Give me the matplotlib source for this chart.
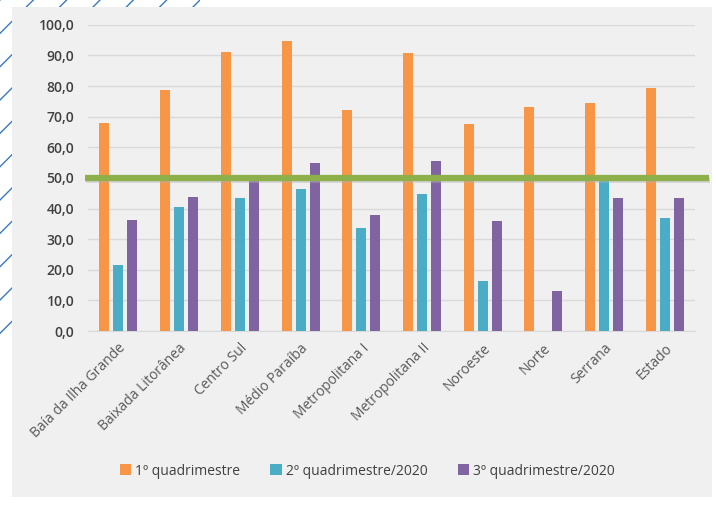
import matplotlib.pyplot as plt
from matplotlib.patches import Rectangle
import numpy as np

plt.rcParams['font.family'] = ['Open Sans', 'DejaVu Sans']

regioes = ['Baía da Ilha Grande', 'Baixada Litorânea', 'Centro Sul', 'Médio Paraíba',
           'Metropolitana I', 'Metropolitana II', 'Noroeste', 'Norte', 'Serrana', 'Estado']
q1 = [68.0, 78.6, 91.1, 94.8, 72.3, 90.8, 67.6, 73.1, 74.5, 79.5]
q2 = [21.6, 40.5, 43.3, 46.5, 33.5, 44.7, 16.5, 0.0, 49.3, 36.8]
q3 = [36.3, 43.7, 49.5, 55.0, 38.0, 55.6, 35.8, 13.0, 43.3, 43.3]
meta = 50
series_names = ['1º quadrimestre', '2º quadrimestre/2020', '3º quadrimestre/2020']
colors = ['#F79646', '#4BACC6', '#8064A2']

fig = plt.figure(figsize=(7.16, 5.07), dpi=100, facecolor='white')

# decorative hatched border (left and top) + gray panel
fig.patches.append(Rectangle((0, 0.33), 0.02, 0.67, transform=fig.transFigure,
                             facecolor='white', edgecolor='#3a78c2', hatch='/',
                             linewidth=0, zorder=0))
fig.patches.append(Rectangle((0, 0.985), 0.28, 0.015, transform=fig.transFigure,
                             facecolor='white', edgecolor='#3a78c2', hatch='/',
                             linewidth=0, zorder=0))
fig.patches.append(Rectangle((0.017, 0.02), 0.978, 0.966, transform=fig.transFigure,
                             facecolor='#f0f0f0', edgecolor='none', zorder=1))

ax = fig.add_axes([0.123, 0.347, 0.848, 0.604])
ax.set_facecolor('none')
ax.set_zorder(2)

x = np.arange(len(regioes))
w = 0.165
off = 0.23
for i, (vals, c, name) in enumerate(zip([q1, q2, q3], colors, series_names)):
    ax.bar(x + (i - 1) * off, vals, width=w, color=c, label=name, zorder=3)

# meta line at 50 (with soft shadow)
ax.plot([-0.53, 9.74], [meta - 0.8, meta - 0.8], color='#b0b0b0', linewidth=4,
        alpha=0.5, clip_on=False, zorder=3, solid_capstyle='butt')
ax.plot([-0.55, 9.72], [meta, meta], color='#8DB04A', linewidth=4.5,
        clip_on=False, zorder=4, solid_capstyle='butt')

ax.set_xlim(-0.5, 9.5)
ax.set_ylim(0, 100)
ax.set_yticks(np.arange(0, 101, 10))
ax.set_yticklabels([f'{v:.1f}'.replace('.', ',') for v in np.arange(0, 101, 10)],
                   fontsize=10, color='#404040', fontweight='semibold')
ax.set_xticks(x)
ax.set_xticklabels(regioes, rotation=45, ha='right', rotation_mode='anchor',
                   fontsize=10, color='#595959')
ax.tick_params(axis='y', length=0, pad=10)
ax.tick_params(axis='x', length=0, pad=7)
ax.grid(axis='y', color='#d9d9d9', linewidth=1, zorder=0)
for s in ['top', 'right', 'left']:
    ax.spines[s].set_visible(False)
ax.spines['bottom'].set_color('#d9d9d9')

handles, labels = ax.get_legend_handles_labels()
fig.legend(handles, labels, loc='center', bbox_to_anchor=(0.513, 0.071), ncol=3,
           frameon=False, fontsize=10, handlelength=0.8, handleheight=0.8,
           handletextpad=0.3, columnspacing=2.2, labelcolor='#404040')

fig.savefig('out.png', dpi=100, facecolor=fig.get_facecolor())
